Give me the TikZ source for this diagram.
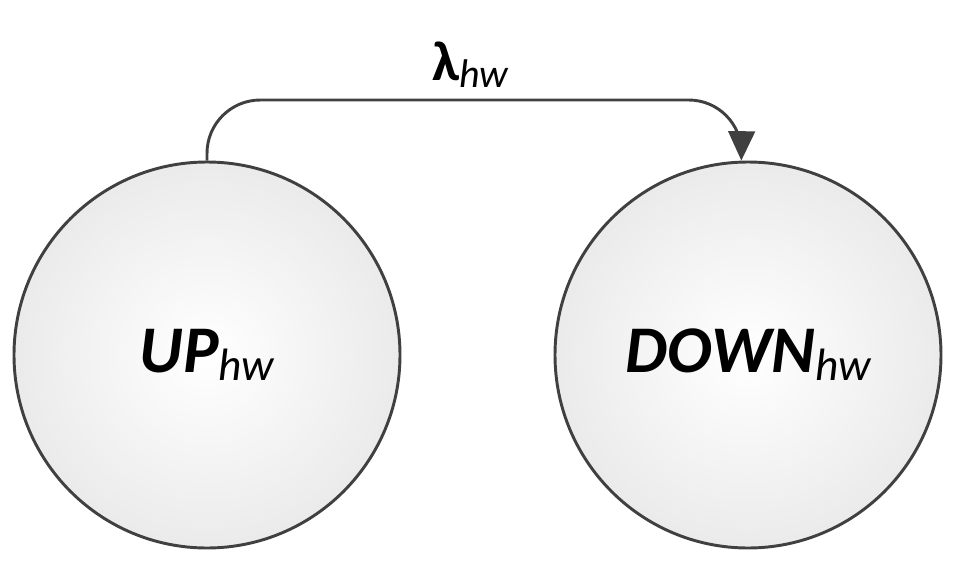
\documentclass[tikz,border=0pt]{standalone}
\usepackage{fontspec}
\setmainfont{Carlito}
\usetikzlibrary{arrows.meta}
\newcommand{\mysub}[2]{\raisebox{-0.12em}{\fontsize{#1}{#1}\selectfont\mdseries\itshape #2}}
\begin{document}
\begin{tikzpicture}[x=0.75pt,y=-0.75pt,
  st/.style={circle,draw=black!75,line width=2.2pt,inner color=white,outer color=black!8,minimum size=289.5pt,inner sep=0pt,font=\fontsize{50}{55}\selectfont\bfseries\itshape},
  con/.style={draw=black!75,line width=2.2pt,-{Triangle[length=22pt,width=20pt]}}]
\useasboundingbox (0,0) rectangle (968,575);
\node[st] (up) at (207,355) {UP\mysub{34}{hw}};
\node[st] (down) at (748,355) {DOWN\mysub{34}{hw}};
\coordinate (c1) at (207,100);
\coordinate (c2) at (742,100);
\draw[con,rounded corners=40pt] (up.north) -- (c1) -- (c2) -- ([xshift=-5pt]down.north);
\node[font=\fontsize{42}{46}\selectfont] (lab) at (470,65) {\textbf{λ}\mysub{30}{hw}};
\end{tikzpicture}
\end{document}
